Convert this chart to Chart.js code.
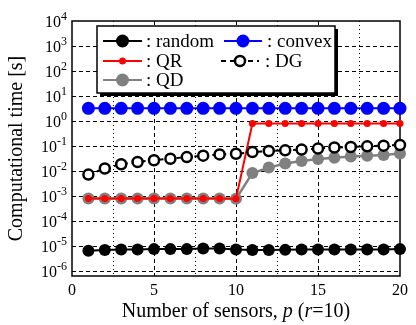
<!DOCTYPE html>
<html>
<head>
<meta charset="utf-8">
<script src="https://cdn.jsdelivr.net/npm/chart.js@4.4.0/dist/chart.umd.min.js"></script>
<style>
body { margin: 0; background: #fff; }
#wrap { width: 416px; height: 325px; }
</style>
</head>
<body>
<div id="wrap"><canvas id="grafico" width="416" height="325"></canvas></div>
<script>
// Dados
const sensores = [1, 2, 3, 4, 5, 6, 7, 8, 9, 10, 11, 12, 13, 14, 15, 16, 17, 18, 19, 20];
const tempoRandom = [6.5e-6, 6.9e-6, 7.2e-6, 7.2e-6, 7.5e-6, 7.5e-6, 7.5e-6, 7.9e-6, 7.9e-6, 7.2e-6,
                     6.9e-6, 6.9e-6, 7.0e-6, 7.2e-6, 7.2e-6, 7.2e-6, 7.2e-6, 7.2e-6, 7.2e-6, 7.5e-6];
const tempoQR = [8e-4, 8e-4, 8e-4, 8e-4, 8e-4, 8e-4, 8e-4, 8e-4, 8e-4, 7.7e-4,
                 0.79, 0.79, 0.79, 0.79, 0.79, 0.79, 0.79, 0.79, 0.79, 0.79];
const tempoQD = [8e-4, 8e-4, 8e-4, 8e-4, 8e-4, 8e-4, 8e-4, 8e-4, 8e-4, 7.7e-4,
                 0.0083, 0.0137, 0.020, 0.025, 0.030, 0.034, 0.038, 0.041, 0.044, 0.050];
const tempoConvex = [3.2, 3.2, 3.2, 3.2, 3.2, 3.2, 3.2, 3.2, 3.2, 3.2,
                     3.2, 3.2, 3.2, 3.2, 3.2, 3.2, 3.2, 3.2, 3.2, 3.2];
const tempoDG = [0.0072, 0.0126, 0.0186, 0.023, 0.027, 0.031, 0.036, 0.041, 0.046, 0.049,
                 0.057, 0.063, 0.067, 0.072, 0.079, 0.087, 0.091, 0.097, 0.103, 0.11];

const expoentesY = [-6, -5, -4, -3, -2, -1, 0, 1, 2, 3, 4];
const ticksX = [0, 5, 10, 15, 20];
const ticksXMenores = [2.5, 7.5, 12.5, 17.5];

const fonte = '"Liberation Serif", "Times New Roman", serif';

// grade tracejada / pontilhada e moldura
const gradePlugin = {
    id: 'grade',
    beforeDatasetsDraw(chart) {
        const { ctx, chartArea: a, scales } = chart;
        ctx.save();
        ctx.strokeStyle = '#000';
        ctx.lineWidth = 1;
        ctx.setLineDash([4, 3]);
        expoentesY.forEach(e => {
            const y = Math.round(scales.y.getPixelForValue(Math.pow(10, e))) + 0.5;
            if (y < a.top + 2) return;
            ctx.beginPath(); ctx.moveTo(a.left, y); ctx.lineTo(a.right, y); ctx.stroke();
        });
        ticksX.forEach(v => {
            const x = Math.round(scales.x.getPixelForValue(v)) + 0.5;
            if (x < a.left + 2 || x > a.right - 2) return;
            ctx.beginPath(); ctx.moveTo(x, a.top); ctx.lineTo(x, a.bottom); ctx.stroke();
        });
        ctx.setLineDash([1, 3]);
        ticksXMenores.forEach(v => {
            const x = Math.round(scales.x.getPixelForValue(v)) + 0.5;
            ctx.beginPath(); ctx.moveTo(x, a.top); ctx.lineTo(x, a.bottom); ctx.stroke();
        });
        ctx.setLineDash([]);
        ctx.lineWidth = 1.5;
        ctx.strokeRect(a.left, a.top, a.right - a.left, a.bottom - a.top);
        ctx.restore();
    }
};

function marcador(ctx, x, y, r, preenchimento, borda, larguraBorda) {
    ctx.beginPath();
    ctx.arc(x, y, r, 0, Math.PI * 2);
    ctx.fillStyle = preenchimento;
    ctx.fill();
    if (larguraBorda) {
        ctx.lineWidth = larguraBorda;
        ctx.strokeStyle = borda;
        ctx.stroke();
    }
}

// rótulos, títulos e legenda
const textosPlugin = {
    id: 'textos',
    afterDraw(chart) {
        const { ctx, chartArea: a, scales } = chart;
        ctx.save();
        ctx.fillStyle = '#000';

        // rótulos do eixo y: 10^n
        expoentesY.forEach(e => {
            const y = scales.y.getPixelForValue(Math.pow(10, e));
            const sup = String(e);
            ctx.font = '12px ' + fonte;
            const wSup = ctx.measureText(sup).width;
            const xDir = a.left - 5;
            ctx.textAlign = 'left';
            ctx.textBaseline = 'alphabetic';
            ctx.fillText(sup, xDir - wSup, y - 1);
            ctx.font = '16px ' + fonte;
            ctx.textAlign = 'right';
            ctx.fillText('10', xDir - wSup, y + 6);
        });

        // título do eixo y
        ctx.save();
        ctx.translate(17, (a.top + a.bottom) / 2);
        ctx.rotate(-Math.PI / 2);
        ctx.font = '20px ' + fonte;
        ctx.textAlign = 'center';
        ctx.textBaseline = 'middle';
        ctx.fillText('Computational time [s]', 0, 0);
        ctx.restore();

        // título do eixo x com partes em itálico
        const partes = [
            ['Number of sensors, ', ''], ['p', 'italic '], [' (', ''], ['r', 'italic '], ['=10)', '']
        ];
        let total = 0;
        partes.forEach(p => { ctx.font = p[1] + '20px ' + fonte; total += ctx.measureText(p[0]).width; });
        let x = (a.left + a.right) / 2 - total / 2;
        ctx.textAlign = 'left';
        ctx.textBaseline = 'alphabetic';
        partes.forEach(p => {
            ctx.font = p[1] + '20px ' + fonte;
            ctx.fillText(p[0], x, 317);
            x += ctx.measureText(p[0]).width;
        });

        // legenda
        const bx = 97, by = 26, bw = 238, bh = 67;
        ctx.fillStyle = '#000';
        ctx.fillRect(bx + 3, by + 3, bw, bh);
        ctx.fillStyle = '#fff';
        ctx.fillRect(bx, by, bw, bh);
        ctx.lineWidth = 1.5;
        ctx.strokeStyle = '#000';
        ctx.strokeRect(bx, by, bw, bh);

        const itens = [
            { rot: ': random', x1: 103, x2: 142, y: 41, cor: '#000', r: 6.5, fill: '#000', bw: 0, tx: 146 },
            { rot: ': QR', x1: 103, x2: 142, y: 61, cor: '#ff0000', r: 3.5, fill: '#ff0000', bw: 0, tx: 146 },
            { rot: ': QD', x1: 103, x2: 142, y: 80, cor: '#808080', r: 6.5, fill: '#808080', bw: 0, tx: 146 },
            { rot: ': convex', x1: 224, x2: 262, y: 41, cor: '#0000ff', r: 6.5, fill: '#0000ff', bw: 0, tx: 267 },
            { rot: ': DG', x1: 221, x2: 259, y: 61, cor: '#000', r: 5, fill: '#fff', bw: 2.5, tx: 265, dash: [5, 4] }
        ];
        itens.forEach(it => {
            ctx.setLineDash(it.dash || []);
            ctx.strokeStyle = it.cor;
            ctx.lineWidth = 2;
            ctx.beginPath(); ctx.moveTo(it.x1, it.y); ctx.lineTo(it.x2, it.y); ctx.stroke();
            ctx.setLineDash([]);
            marcador(ctx, (it.x1 + it.x2) / 2, it.y, it.r, it.fill, it.cor, it.bw);
            ctx.fillStyle = '#000';
            ctx.font = '19px ' + fonte;
            ctx.textAlign = 'left';
            ctx.textBaseline = 'middle';
            ctx.fillText(it.rot, it.tx, it.y + 1);
        });
        ctx.restore();
    }
};

function serie(dados, cor, raio, opcoes) {
    return Object.assign({
        data: dados,
        borderColor: cor,
        backgroundColor: cor,
        pointBackgroundColor: cor,
        pointBorderColor: cor,
        pointRadius: raio,
        pointBorderWidth: 0,
        borderWidth: 2,
        tension: 0,
        clip: false
    }, opcoes || {});
}

new Chart(document.getElementById('grafico'), {
    type: 'line',
    data: {
        labels: sensores,
        datasets: [
            serie(tempoDG.map((v, i) => ({ x: sensores[i], y: v })), '#000', 5, {
                label: 'DG', order: 0, pointBackgroundColor: '#fff', pointBorderWidth: 2.5, borderDash: [5, 4]
            }),
            serie(tempoQR.map((v, i) => ({ x: sensores[i], y: v })), '#ff0000', 3.5, { label: 'QR', order: 1 }),
            serie(tempoQD.map((v, i) => ({ x: sensores[i], y: v })), '#808080', 6, { label: 'QD', order: 2, borderWidth: 2.5 }),
            serie(tempoRandom.map((v, i) => ({ x: sensores[i], y: v })), '#000', 6, { label: 'random', order: 3 }),
            serie(tempoConvex.map((v, i) => ({ x: sensores[i], y: v })), '#0000ff', 6.5, { label: 'convex', order: 4 })
        ]
    },
    options: {
        responsive: false,
        animation: false,
        layout: { padding: { top: 21, right: 16, left: 0, bottom: 0 } },
        plugins: {
            legend: { display: false },
            tooltip: { enabled: false }
        },
        scales: {
            x: {
                type: 'linear',
                min: 0,
                max: 20,
                grid: { display: false, drawTicks: false },
                border: { display: false },
                ticks: {
                    stepSize: 5,
                    padding: 5,
                    color: '#000',
                    font: { family: fonte, size: 16 },
                    maxRotation: 0
                },
                afterFit: function(scale) { scale.height = 49; }
            },
            y: {
                type: 'logarithmic',
                min: Math.pow(10, -6.2),
                max: 1e4,
                grid: { display: false, drawTicks: false },
                border: { display: false },
                ticks: { display: false },
                afterFit: function(scale) { scale.width = 72; }
            }
        }
    },
    plugins: [gradePlugin, textosPlugin]
});
</script>
</body>
</html>
